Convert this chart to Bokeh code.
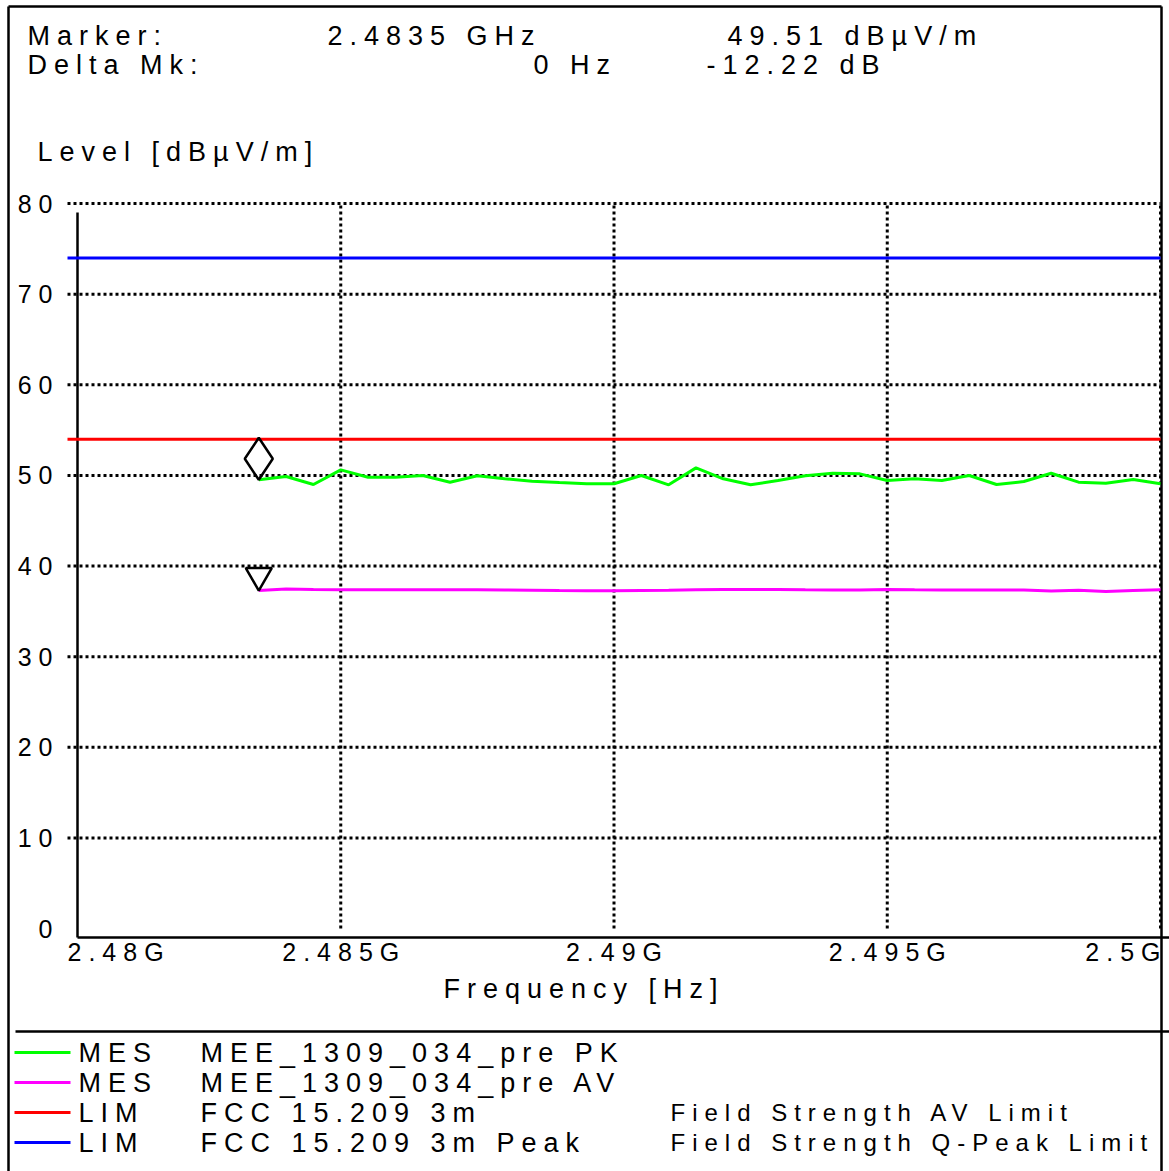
from bokeh.plotting import figure
from bokeh.models import Range1d, ColumnDataSource
from bokeh.core.properties import value
from bokeh.embed import file_html
from bokeh.resources import INLINE

# ---- measured sweep (GHz / dBµV/m) ----
freq_ghz = [2.4835, 2.4840, 2.4845, 2.4850, 2.4855, 2.4860, 2.4865, 2.4870,
            2.4875, 2.4880, 2.4885, 2.4890, 2.4895, 2.4900, 2.4905, 2.4910,
            2.4915, 2.4920, 2.4925, 2.4930, 2.4935, 2.4940, 2.4945, 2.4950,
            2.4955, 2.4960, 2.4965, 2.4970, 2.4975, 2.4980, 2.4985, 2.4990,
            2.4995, 2.5000]
pk_level = [49.51, 49.88, 48.99, 50.61, 49.80, 49.80, 49.99, 49.25,
            49.95, 49.62, 49.36, 49.21, 49.07, 49.07, 49.99, 48.96,
            50.83, 49.62, 48.96, 49.43, 49.95, 50.24, 50.17, 49.43,
            49.62, 49.43, 49.99, 48.99, 49.32, 50.24, 49.25, 49.14,
            49.54, 49.07]
av_level = [37.29, 37.46, 37.40, 37.37, 37.37, 37.37, 37.37, 37.37,
            37.37, 37.35, 37.33, 37.30, 37.28, 37.28, 37.30, 37.32,
            37.37, 37.40, 37.40, 37.40, 37.37, 37.35, 37.35, 37.40,
            37.37, 37.35, 37.35, 37.35, 37.35, 37.25, 37.32, 37.18,
            37.30, 37.37]
av_limit = 54.0
peak_limit = 74.0

marker_index = 0

x_ticks = [2.480, 2.485, 2.490, 2.495, 2.500]
x_tick_labels = ["2.48G", "2.485G", "2.49G", "2.495G", "2.5G"]
y_ticks = [0, 10, 20, 30, 40, 50, 60, 70, 80]

legend_kind = ["MES", "MES", "LIM", "LIM"]
legend_name = ["MEE_1309_034_pre PK", "MEE_1309_034_pre AV",
               "FCC 15.209 3m", "FCC 15.209 3m Peak"]
legend_desc = ["", "", "Field Strength AV Limit", "Field Strength Q-Peak Limit"]

PK_COLOR, AV_COLOR = "#00ff00", "#ff00ff"
AVLIM_COLOR, PKLIM_COLOR = "#ff0000", "#0000ff"
legend_colors = [PK_COLOR, AV_COLOR, AVLIM_COLOR, PKLIM_COLOR]

# ---- page geometry (pixels) ----
W, H = 1169, 1171
LEFT, RIGHT, TOP, BOTTOM = 67, 1160, 203, 928
F0, F1 = x_ticks[0], x_ticks[-1]
L0, L1 = y_ticks[0], y_ticks[-1]
kx = (RIGHT - LEFT) / (F1 - F0)
ky = (BOTTOM - TOP) / (L1 - L0)


def fx(px):
    return F0 + (px - LEFT) / kx


def ly(py):
    return L0 + (BOTTOM - py) / ky


FONT = value("Liberation Sans")
SPACING = 7  # px of extra letter spacing on every text

p = figure(width=W, height=H, x_range=Range1d(fx(0), fx(W)),
           y_range=Range1d(ly(H), ly(0)), min_border=0,
           x_axis_location=None, y_axis_location=None,
           toolbar_location=None, output_backend="svg", title=None,
           outline_line_color=None, background_fill_color="white",
           border_fill_color="white")
p.xgrid.visible = False
p.ygrid.visible = False
p.styles = {"letter-spacing": f"{SPACING}px"}


def txt(xs, ys, texts, size="27px"):
    # left-anchored texts; xs, ys and texts are lists
    p.text(x=list(xs), y=list(ys), text=list(texts), text_font=FONT,
           text_font_size=size, text_align="left", text_baseline="middle",
           text_color="black")


def spread(label):
    # extra width that the letter spacing adds inside a label
    return (len(label) - 1) * SPACING


# ---- dotted grid ----
hg = y_ticks[1:]
p.segment(x0=[F0] * len(hg), y0=hg, x1=[F1] * len(hg), y1=hg,
          line_color="black", line_width=3, line_dash="3 3")
vg = x_ticks[1:]
p.segment(x0=vg, y0=[L0] * len(vg), x1=vg, y1=[L1] * len(vg),
          line_color="black", line_width=3, line_dash="3 3")

# ---- axis lines and page frame ----
frame_lines = dict(
    x0=[fx(77), fx(77), fx(8), fx(8), fx(1161), fx(15)],
    y0=[ly(212), ly(937), ly(6), ly(6), ly(6), ly(1031)],
    x1=[fx(77), fx(W), fx(8), fx(1161), fx(1161), fx(W)],
    y1=[ly(937), ly(937), ly(H), ly(6), ly(H), ly(1031)],
)
p.segment(source=ColumnDataSource(frame_lines), x0="x0", y0="y0",
          x1="x1", y1="y1", line_color="black", line_width=2.5)

# ---- limit lines ----
p.line([F0, F1], [peak_limit, peak_limit], line_color=PKLIM_COLOR, line_width=3)
p.line([F0, F1], [av_limit, av_limit], line_color=AVLIM_COLOR, line_width=3)

# ---- measured traces ----
p.line(freq_ghz, pk_level, line_color=PK_COLOR, line_width=3)
p.line(freq_ghz, av_level, line_color=AV_COLOR, line_width=3)

# ---- markers (tip sits on the trace value) ----
mf = freq_ghz[marker_index]
mpk = pk_level[marker_index]
mav = av_level[marker_index]
p.scatter([mf], [mpk + 21 / ky], marker="diamond", size=42,
          fill_color=None, line_color="black", line_width=2.5)
p.scatter([mf], [mav + 15 / ky], marker="inverted_triangle", size=26,
          fill_color=None, line_color="black", line_width=2.5)

# ---- header ----
txt([fx(27), fx(327), fx(727)], [ly(35)] * 3,
    ["Marker:", f"{mf:.4f} GHz", f"{mpk:.2f} dBµV/m"])
txt([fx(27), fx(533), fx(706)], [ly(64)] * 3,
    ["Delta Mk:", "0 Hz", f"{mav - mpk:.2f} dB"])
txt([fx(37)], [ly(151)], ["Level [dBµV/m]"])

# ---- tick labels ----
y_labels = [str(t) for t in y_ticks]
p.text(x=[fx(52 - spread(s)) for s in y_labels], y=y_ticks, text=y_labels,
       text_font=FONT, text_font_size="25px", text_align="right",
       text_baseline="middle", text_color="black")

x_anchor = [x_ticks[0]]
x_anchor += [t - spread(s) / 2 / kx for t, s in zip(x_ticks[1:-1], x_tick_labels[1:-1])]
x_anchor += [x_ticks[-1] - spread(x_tick_labels[-1]) / kx]
x_align = ["left"] + ["center"] * (len(x_ticks) - 2) + ["right"]
p.text(x=x_anchor, y=[ly(951)] * len(x_ticks), text=x_tick_labels,
       text_font=FONT, text_font_size="25px", text_align=x_align,
       text_baseline="middle", text_color="black")
txt([fx(443)], [ly(988)], ["Frequency [Hz]"])

# ---- legend ----
rows = [ly(1052 + 30 * i) for i in range(len(legend_kind))]
p.segment(x0=[fx(14)] * 4, y0=rows, x1=[fx(70)] * 4, y1=rows,
          line_color=legend_colors, line_width=3)
txt([fx(78)] * 4, rows, legend_kind)
txt([fx(200)] * 4, rows, legend_name)
txt([fx(670)] * 4, rows, legend_desc, size="24px")

open("out.html", "w").write(file_html(p, INLINE))
